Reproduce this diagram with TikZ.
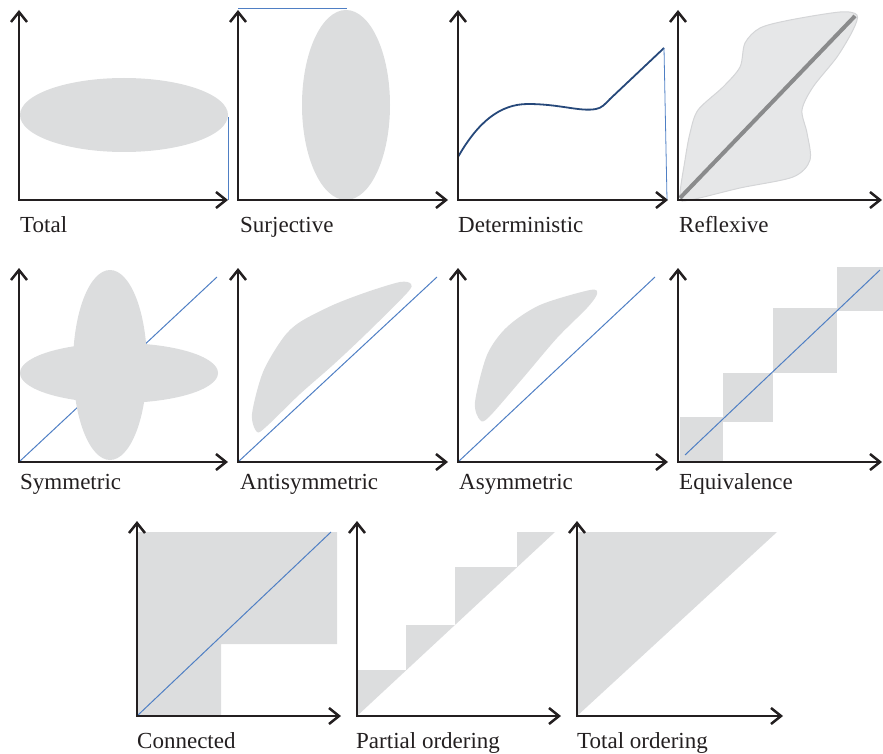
\documentclass[tikz,border=0pt]{standalone}
\usepackage{fontspec}
\setmainfont{Liberation Serif}
\usetikzlibrary{arrows.meta}
\definecolor{relFill}{HTML}{DCDDDE}
\definecolor{relFillLight}{HTML}{E6E7E8}
\definecolor{relEdge}{HTML}{D4D5D7}
\definecolor{relBlue}{HTML}{4F7FC4}
\definecolor{relNavy}{HTML}{26487A}
\definecolor{relAxis}{HTML}{231F20}
\definecolor{relDiag}{HTML}{8A8B8C}

\begin{document}
\begin{tikzpicture}[x=1pt,y=-1pt,
  axis/.style={line width=2.5pt,relAxis,{Straight Barb[length=10pt,width=16pt]}-{Straight Barb[length=10pt,width=16pt]}},
  lbl/.style={anchor=base west,inner sep=0pt,text=relAxis,font=\fontsize{23}{27}\selectfont},
  diag/.style={relBlue,line width=1pt}]
\useasboundingbox (0,0) rectangle (883,754);
% row 1
\fill[relFill] (124,115) ellipse [x radius=104pt,y radius=37pt];
\draw[diag] (228,117) -- (228,200);
\fill[relFill] (346,105) ellipse [x radius=44pt,y radius=95pt];
\draw[diag] (238,9) -- (347,9);
\draw[relNavy,line width=1.8pt] (458,157) .. controls (478,122) and (500,104) .. (528,104)
  .. controls (560,104) and (580,112) .. (596,109) .. controls (602,108) and (605,104) .. (610,99) -- (664,48);
\draw[diag,line width=0.8pt] (664,48) -- (667,200);
\filldraw[fill=relFillLight,draw=relEdge,line width=1pt] plot[smooth cycle,tension=0.5] coordinates
  {(680,197) (685,160) (690,133) (698,110) (723,87) (740,67) (745,43) (760,28) (790,20) (840,12)
   (857,15) (853,30) (837,57) (813,87) (802,110) (807,133) (810,160) (793,177) (740,188) (690,200)};
\draw[relDiag,line width=4pt] (680,198) -- (855,16);
\draw[axis] (19,10) -- (19,200) -- (228,200);
\draw[axis] (238,10) -- (238,200) -- (448,200);
\draw[axis] (458,10) -- (458,200) -- (668,200);
\draw[axis] (678,10) -- (678,200) -- (882,200);
\node[lbl] (total) at (20,233) {Total};
\node[lbl] (surj) at (240,233) {Surjective};
\node[lbl] (det) at (458,233) {Deterministic};
\node[lbl] (refl) at (679,233) {Reflexive};
% row 2
\draw[diag] (19,462) -- (217,277);
\fill[relFill] (119,373) ellipse [x radius=99pt,y radius=30pt];
\fill[relFill] (110,365) ellipse [x radius=37pt,y radius=95pt];
\fill[relFill] plot[smooth cycle] coordinates
  {(257,432) (252,414) (263,372) (283,338) (300,322) (333,305) (367,292) (400,282) (411,284)
   (407,293) (367,333) (333,365) (300,394) (267,426)};
\draw[diag] (238,462) -- (437,277);
\fill[relFill] plot[smooth cycle] coordinates
  {(480,420) (475,402) (487,355) (507,327) (540,305) (590,290) (597,294) (587,308)
   (557,338) (523,378) (489,417)};
\draw[diag] (458,462) -- (655,277);
\fill[relFill] (680,417) rectangle (723,462);
\fill[relFill] (723,373) rectangle (773,422);
\fill[relFill] (773,308) rectangle (837,373);
\fill[relFill] (837,267) rectangle (883,311);
\draw[diag] (685,455) -- (880,270);
\draw[axis] (19,268) -- (19,462) -- (228,462);
\draw[axis] (238,268) -- (238,462) -- (448,462);
\draw[axis] (458,268) -- (458,462) -- (668,462);
\draw[axis] (678,268) -- (678,462) -- (882,462);
\node[lbl] (sym) at (20,489) {Symmetric};
\node[lbl] (anti) at (240,489) {Antisymmetric};
\node[lbl] (asym) at (459,489) {Asymmetric};
\node[lbl] (equiv) at (679,489) {Equivalence};
% row 3
\fill[relFill] (137,532) -- (337,532) -- (337,644) -- (221,644) -- (221,716) -- (137,716) -- cycle;
\draw[diag] (137,716) -- (331,532);
\fill[relFill] (357,716) -- (357,670) -- (406,670) -- (406,625) -- (455,625) -- (455,567)
  -- (517,567) -- (517,532) -- (555,532) -- cycle;
\fill[relFill] (577,716) -- (577,532) -- (777,532) -- cycle;
\draw[axis] (137,521) -- (137,716) -- (341,716);
\draw[axis] (357,521) -- (357,716) -- (561,716);
\draw[axis] (577,521) -- (577,716) -- (783,716);
\node[lbl] (conn) at (137,748) {Connected};
\node[lbl] (partial) at (356,748) {Partial ordering};
\node[lbl] (totord) at (577,748) {Total ordering};
\end{tikzpicture}
\end{document}
